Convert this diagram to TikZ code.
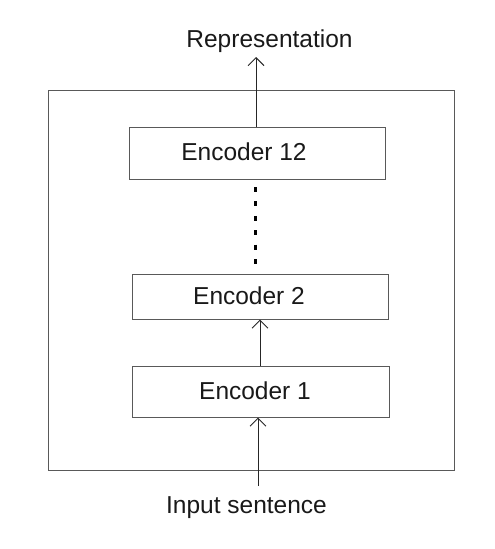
\documentclass[tikz,border=0pt]{standalone}
\usepackage{fontspec}
\setmainfont{Liberation Sans}
\usetikzlibrary{arrows.meta}
\begin{document}
\begin{tikzpicture}[x=1pt,y=-1pt,
  box/.style={draw=black!65,line width=1pt,rectangle,inner sep=0pt},
  lbl/.style={anchor=base,inner sep=0pt,font=\fontsize{24.5}{28}\selectfont,text=black!90},
  arr/.style={draw=black!85,line width=1pt,-{Straight Barb[length=8pt,width=16pt,line width=1pt]}},
  dotline/.style={draw=black,line width=3pt,dash pattern=on 5pt off 9.4pt}]
\useasboundingbox (0,0) rectangle (495,549);
\node[box,minimum width=406pt,minimum height=380pt] (outer) at (251,280) {};
\node[box,minimum width=256pt,minimum height=52pt] (e12) at (257,153) {};
\node[box,minimum width=256pt,minimum height=45pt] (e2) at (260,296.5) {};
\node[box,minimum width=257pt,minimum height=51pt] (e1) at (260.5,391.5) {};
\node[lbl] (t12) at (244,160) {Encoder 12};
\node[lbl] (t2) at (249,304) {Encoder 2};
\node[lbl] (t1) at (255,399) {Encoder 1};
\node[lbl] (rep) at (269.5,47) {Representation};
\node[lbl] (inp) at (246.5,513) {Input sentence};
\coordinate (top) at (256,57);
\coordinate (bot) at (258,486);
\coordinate (d1) at (255,187);
\coordinate (d2) at (255,265);
\draw[arr] (e12.north -| top) -- (top);
\draw[arr] (e1.north -| 260,0) -- (e2.south -| 260,0);
\draw[arr] (bot) -- (e1.south -| bot);
\draw[dotline] (d1) -- (d2);
\end{tikzpicture}
\end{document}
